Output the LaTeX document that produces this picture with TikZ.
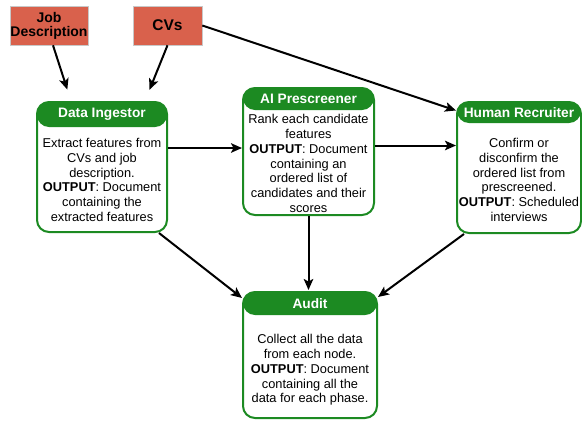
\documentclass[tikz,border=0pt]{standalone}
\usepackage{fontspec}
\setmainfont{Liberation Sans}
\usepackage{tikz}
\usetikzlibrary{arrows.meta,positioning,calc}
\usepackage{xcolor}
\definecolor{inputred}{HTML}{D9614C}
\definecolor{inputedge}{HTML}{C8C8C8}
\definecolor{stagegreen}{HTML}{1C8A22}

\begin{document}
\begin{tikzpicture}[x=1pt,y=-1pt,
  inputbox/.style={draw=inputedge,line width=0.6pt,fill=inputred,align=center,inner sep=0pt},
  stage/.style={draw=stagegreen,line width=2pt,rounded corners=12pt,fill=white,inner sep=0pt,
    path picture={\fill[stagegreen] (path picture bounding box.north west) rectangle ([yshift=-#1]path picture bounding box.north east);}},
  hdr/.style={text=white,font=\bfseries\fontsize{13.7}{16}\selectfont,inner sep=0pt},
  body/.style={align=center,font=\fontsize{12.8}{14.8}\selectfont,inner sep=0pt},
  arr/.style={-{Stealth[length=11pt,width=9.5pt,inset=2.5pt]},line width=2pt}]
  \useasboundingbox (0,0) rectangle (582,421);
  % inputs
  \node[inputbox,minimum width=78,minimum height=39,font=\bfseries\fontsize{14}{14}\selectfont] (job) at (49,25.5) {Job\\Description};
  \node[inputbox,minimum width=69,minimum height=39,font=\bfseries\fontsize{15.5}{16}\selectfont] (cv) at (167.5,25.5) {CVs};
  % stages
  \node[stage=25pt,minimum width=130,minimum height=130] (ingest) at (102,167) {};
  \node[hdr] (ingestH) at (102,114.5) {Data Ingestor};
  \node[body] (ingestB) at (102,180) {Extract features from\\CVs and job\\description.\\\textbf{OUTPUT}: Document\\containing the\\extracted features};
  \node[stage=22pt,minimum width=131,minimum height=127] (prescreen) at (308.5,151.5) {};
  \node[hdr] (prescreenH) at (308.5,99) {AI Prescreener};
  \node[body] (prescreenB) at (308.5,163.5) {Rank each candidate\\features\\\textbf{OUTPUT}: Document\\containing an\\ordered list of\\candidates and their\\scores};
  \node[stage=21pt,minimum width=124,minimum height=131] (human) at (519,167.5) {};
  \node[hdr] (humanH) at (519,112.5) {Human Recruiter};
  \node[body] (humanB) at (519,180) {Confirm or\\disconfirm the\\ordered list from\\prescreened.\\\textbf{OUTPUT}: Scheduled\\interviews};
  \node[stage=23pt,minimum width=134,minimum height=126] (audit) at (310,355) {};
  \node[hdr] (auditH) at (310,303.5) {Audit};
  \node[body] (auditB) at (310,370) {Collect all the data\\from each node.\\\textbf{OUTPUT}: Document\\containing all the\\data for each phase.};
  % connectors
  \draw[arr,shorten >=12pt] ([xshift=4]job.south) -- ([xshift=-31]ingest.north);
  \draw[arr,shorten >=12pt] (cv.south) -- ([xshift=43]ingest.north);
  \draw[arr] (cv.east) -- ([yshift=57]human.west);
  \draw[arr] ([yshift=19]ingest.east) -- ([yshift=19]ingest.east -| prescreen.west);
  \draw[arr] ([yshift=6]prescreen.east) -- ([yshift=6]prescreen.east -| human.west);
  \draw[arr] ([xshift=-9]ingest.south east) -- ([yshift=57]audit.west);
  \draw[arr,shorten >=1pt] (prescreen.south) -- (prescreen.south |- audit.north);
  \draw[arr] ([xshift=8]human.south west) -- ([yshift=58]audit.east);
\end{tikzpicture}
\end{document}
